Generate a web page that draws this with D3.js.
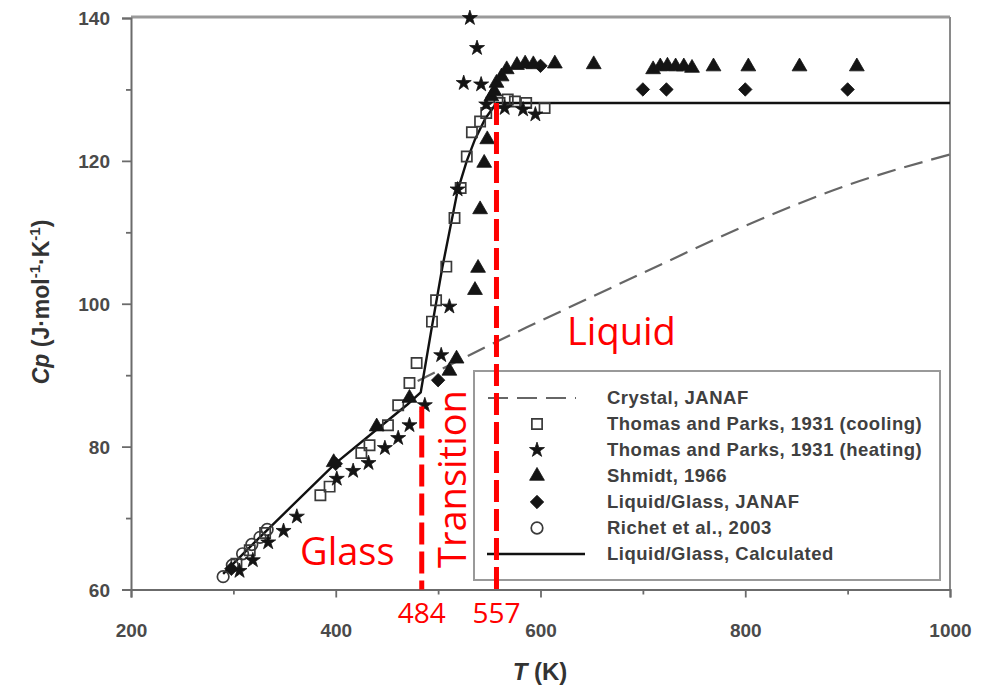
<!DOCTYPE html>
<html><head><meta charset="utf-8">
<script src="https://cdn.jsdelivr.net/npm/d3@7"></script>
<style>
html,body{margin:0;padding:0;background:#fff;overflow:hidden;}
svg{display:block;}
</style></head>
<body>
<script>
// ---- data ----
const xTicks = [200, 400, 600, 800, 1000];
const xMinor = [300, 500, 700, 900];
const yTicks = [60, 80, 100, 120, 140];
const yMinor = [70, 90, 110, 130];

const crystalT  = [480, 500, 550, 600, 700, 800, 900, 1000];
const crystalCp = [89.2, 90.6, 94.2, 97.6, 104.3, 110.9, 116.6, 120.9];

const calcT  = [290, 320, 350, 400, 440, 470, 483, 493, 504, 519, 528, 536, 546, 557, 1000];
const calcCp = [62.2, 66.5, 70.7, 77.7, 82.4, 85.9, 87.6, 96.0, 105.0, 115.8, 120.0, 123.0, 125.9, 128.1, 128.1];

const coolT  = [303, 316, 331, 385, 394, 425, 433, 451, 461, 472, 479, 494, 498, 508, 516, 522, 528, 533, 541, 547, 560, 568, 575, 586, 604];
const coolCp = [63.6, 65.5, 67.9, 73.2, 74.4, 79.1, 80.2, 83.0, 85.8, 88.9, 91.7, 97.5, 100.5, 105.2, 112.0, 116.2, 120.6, 124.0, 125.5, 126.7, 128.1, 128.6, 128.3, 128.1, 127.4];

const heatT  = [306, 319, 334, 349, 362, 401, 417, 432, 448, 461, 472, 487, 503, 511, 519, 525, 531, 538, 542, 547, 565, 583, 595];
const heatCp = [62.6, 64.1, 66.6, 68.2, 70.2, 75.5, 76.6, 77.7, 79.8, 81.2, 83.0, 85.8, 92.8, 99.6, 116.0, 130.9, 140.0, 135.8, 130.7, 127.9, 127.4, 127.2, 126.5];

const shmT  = [398, 440, 472, 511, 518, 536, 539, 541, 545, 548, 552, 555, 557, 562, 567, 577, 585, 593, 614, 652, 710, 717, 724, 732, 740, 748, 769, 803, 853, 909];
const shmCp = [77.8, 82.8, 86.8, 90.6, 92.3, 101.9, 105.0, 113.2, 119.7, 123.0, 129.0, 129.7, 130.9, 131.8, 132.8, 133.4, 133.6, 133.5, 133.6, 133.5, 132.8, 133.2, 133.3, 133.2, 133.2, 133.0, 133.2, 133.2, 133.2, 133.2];

const janT  = [298, 400, 500, 600, 700, 723, 800, 900];
const janCp = [62.9, 77.6, 89.3, 133.3, 130.0, 130.0, 130.0, 130.0];

const richT  = [290, 299, 309, 318, 326, 333];
const richCp = [61.8, 63.4, 65.0, 66.3, 67.3, 68.4];

const markerT   = [484, 557];
const markerTop = [85.6, 128.1];

const legendLabels = [
  "Crystal, JANAF",
  "Thomas and Parks, 1931 (cooling)",
  "Thomas and Parks, 1931 (heating)",
  "Shmidt, 1966",
  "Liquid/Glass, JANAF",
  "Richet et al., 2003",
  "Liquid/Glass, Calculated"
];
const regionLabels = ["Glass", "Transition", "Liquid"];

// ---- drawing ----
const W = 992, H = 688;
const svg = d3.select("body").append("svg").attr("width", W).attr("height", H);
const x = d3.scaleLinear().domain([200, 1000]).range([131, 950]);
const y = d3.scaleLinear().domain([60, 140]).range([589.5, 18]);
const zip = (a, b) => a.map((v, i) => [v, b[i]]);

const axisColor = "#6b6b6b";
const labelColor = "#4a4a4a";
const font = "'Liberation Sans', Arial, sans-serif";

// frame (top & right)
svg.append("line").attr("x1", 131).attr("x2", 950).attr("y1", 17).attr("y2", 17)
  .attr("stroke", "#9a9a9a").attr("stroke-width", 3);
svg.append("line").attr("x1", 950).attr("x2", 950).attr("y1", 17).attr("y2", 589.5)
  .attr("stroke", "#8a8a8a").attr("stroke-width", 2);

// axes
function styleAxis(g) {
  g.select(".domain").attr("stroke", axisColor).attr("stroke-width", 2);
  g.selectAll(".tick line").attr("stroke", axisColor).attr("stroke-width", 1.8);
  g.selectAll(".tick text").attr("fill", labelColor).attr("font-family", font)
    .attr("font-weight", "bold").attr("font-size", 19);
}
const gx = svg.append("g").attr("transform", `translate(0,${y(60)})`)
  .call(d3.axisBottom(x).tickValues(xTicks).tickSize(8).tickPadding(26).tickFormat(d3.format("d")));
styleAxis(gx);
const gxm = svg.append("g").attr("transform", `translate(0,${y(60)})`)
  .call(d3.axisBottom(x).tickValues(xMinor).tickSize(5).tickFormat(""));
styleAxis(gxm); gxm.select(".domain").remove();

const gy = svg.append("g").attr("transform", `translate(${x(200)},0)`)
  .call(d3.axisLeft(y).tickValues(yTicks).tickSize(9).tickPadding(12).tickFormat(d3.format("d")));
styleAxis(gy);
gy.selectAll(".tick text").attr("dy", "0.36em");
const gym = svg.append("g").attr("transform", `translate(${x(200)},0)`)
  .call(d3.axisLeft(y).tickValues(yMinor).tickSize(5).tickFormat(""));
styleAxis(gym); gym.select(".domain").remove();

// axis titles
const xt = svg.append("text").attr("x", 540).attr("y", 680).attr("text-anchor", "middle")
  .attr("font-family", font).attr("font-weight", "bold").attr("font-size", 24).attr("fill", "#333");
xt.append("tspan").attr("font-style", "italic").text("T");
xt.append("tspan").text(" (K)");

const yt = svg.append("text").attr("transform", "translate(49,302) rotate(-90)")
  .attr("text-anchor", "middle").attr("font-family", font).attr("font-weight", "bold")
  .attr("font-size", 23).attr("fill", "#333");
yt.append("tspan").attr("font-style", "italic").text("Cp");
yt.append("tspan").text(" (J·mol");
yt.append("tspan").attr("font-size", 15).attr("dy", -9).text("-1");
yt.append("tspan").attr("dy", 9).text("·K");
yt.append("tspan").attr("font-size", 15).attr("dy", -9).text("-1");
yt.append("tspan").attr("dy", 9).text(")");

// lines
const line = d3.line().x(d => x(d[0])).y(d => y(d[1]));
svg.append("path").datum(zip(crystalT, crystalCp)).attr("d", line.curve(d3.curveMonotoneX))
  .attr("fill", "none").attr("stroke", "#666").attr("stroke-width", 2.2).attr("stroke-dasharray", "19,9");
svg.append("path").datum(zip(calcT, calcCp)).attr("d", d3.line().x(d => x(d[0])).y(d => y(d[1])).curve(d3.curveLinear))
  .attr("fill", "none").attr("stroke", "#111").attr("stroke-width", 2.4);

// symbols
const ink = "#141414";
function sym(type, size, filled, rot) {
  return g => g.append("path")
    .attr("d", d3.symbol().type(type).size(size)())
    .attr("fill", filled ? ink : "none")
    .attr("stroke", filled ? ink : "#3a3a3a")
    .attr("stroke-width", filled ? 0.8 : 1.7)
    .attr("transform", rot ? "rotate(45)" : null);
}
function drawSeries(T, C, painter) {
  const g = svg.append("g");
  g.selectAll("g").data(zip(T, C)).join("g")
    .attr("transform", d => `translate(${x(d[0])},${y(d[1])})`)
    .each(function () { painter(d3.select(this)); });
}
const painters = {
  cool: sym(d3.symbolSquare, 105, false),
  heat: sym(d3.symbolStar, 70, true),
  shm: sym(d3.symbolTriangle, 95, true),
  jan: sym(d3.symbolSquare, 90, true, true),
  rich: sym(d3.symbolCircle, 105, false)
};
drawSeries(richT, richCp, painters.rich);
drawSeries(coolT, coolCp, painters.cool);
drawSeries(janT, janCp, painters.jan);
drawSeries(shmT, shmCp, painters.shm);
drawSeries(heatT, heatCp, painters.heat);

// legend
const lg = svg.append("g");
lg.append("rect").attr("x", 474).attr("y", 371).attr("width", 466).attr("height", 209)
  .attr("fill", "#fff").attr("stroke", "#999").attr("stroke-width", 2);
const rowY = d3.range(legendLabels.length).map(i => 398 + i * 26);
lg.append("line").attr("x1", 488).attr("x2", 576).attr("y1", rowY[0]).attr("y2", rowY[0])
  .attr("stroke", "#666").attr("stroke-width", 2.2).attr("stroke-dasharray", "20,9");
lg.append("line").attr("x1", 487).attr("x2", 585).attr("y1", rowY[6]).attr("y2", rowY[6])
  .attr("stroke", "#111").attr("stroke-width", 2.4);
const legPainters = [null, painters.cool, painters.heat, painters.shm, painters.jan, painters.rich, null];
legPainters.forEach((p, i) => {
  if (p) { const g = lg.append("g").attr("transform", `translate(537,${rowY[i]})`); p(g); }
});
lg.selectAll("text.leg").data(legendLabels).join("text").attr("class", "leg")
  .attr("x", 607).attr("y", (d, i) => rowY[i]).attr("dy", "0.35em")
  .attr("font-family", font).attr("font-weight", "bold").attr("font-size", 18.5)
  .attr("letter-spacing", 0.5).attr("fill", "#404040").text(d => d);

// red annotations
const red = "#ff0000";
const redFont = "'Open Sans', 'Noto Sans', sans-serif";
markerT.forEach((t, i) => {
  svg.append("line").attr("x1", x(t)).attr("x2", x(t)).attr("y1", y(markerTop[i])).attr("y2", y(60))
    .attr("stroke", red).attr("stroke-width", 5).attr("stroke-dasharray", "22,7");
  svg.append("text").attr("x", x(t)).attr("y", 623).attr("text-anchor", "middle")
    .attr("font-family", redFont).attr("font-size", 28).attr("fill", red).text(String(t));
});
svg.append("text").attr("x", 300).attr("y", 565).attr("font-family", redFont).attr("font-size", 38)
  .attr("fill", red).text(regionLabels[0]);
svg.append("text").attr("transform", "translate(466,568) rotate(-90)").attr("font-family", redFont)
  .attr("font-size", 38).attr("fill", red).text(regionLabels[1]);
svg.append("text").attr("x", 567).attr("y", 345).attr("font-family", redFont).attr("font-size", 38)
  .attr("fill", red).text(regionLabels[2]);
</script>
</body></html>
